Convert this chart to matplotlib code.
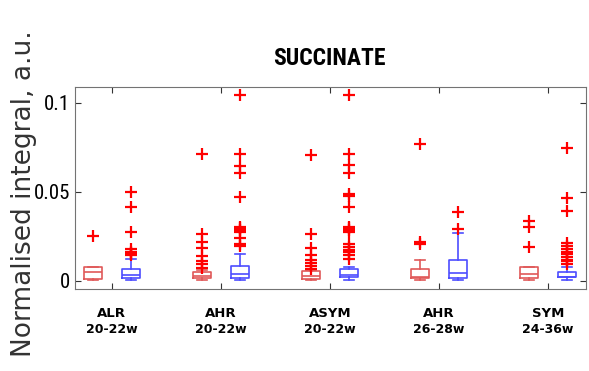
import numpy as np
import matplotlib.pyplot as plt
from matplotlib import font_manager

groups = ["ALR\n20-22w", "AHR\n20-22w", "ASYM\n20-22w", "AHR\n26-28w", "SYM\n24-36w"]

# box statistics (red series, blue series)
red_q1 = [0.0010, 0.0015, 0.0011, 0.0017, 0.0017]
red_med = [0.0050, 0.0030, 0.0030, 0.0022, 0.0039]
red_q3 = [0.0080, 0.0052, 0.0056, 0.0067, 0.0079]
red_lo = [0.0005, 0.0003, 0.0003, 0.0003, 0.0003]
red_hi = [0.0080, 0.0060, 0.0060, 0.0118, 0.0079]
red_fliers = [
    [0.0253],
    [0.0713, 0.0264, 0.0220, 0.0185, 0.0140, 0.0112, 0.0096, 0.0073],
    [0.0708, 0.0264, 0.0185, 0.0146, 0.0118, 0.0101, 0.0085, 0.0070],
    [0.0768, 0.0219, 0.0205],
    [0.0337, 0.0305, 0.0190],
]

blue_q1 = [0.0017, 0.0017, 0.0022, 0.0017, 0.0022]
blue_med = [0.0034, 0.0039, 0.0035, 0.0045, 0.0025]
blue_q3 = [0.0067, 0.0086, 0.0067, 0.0118, 0.0052]
blue_lo = [0.0006, 0.0006, 0.0006, 0.0006, 0.0006]
blue_hi = [0.0124, 0.0150, 0.0080, 0.0270, 0.0079]
blue_fliers = [
    [0.0500, 0.0416, 0.0275, 0.0180, 0.0165, 0.0155, 0.0150, 0.0145],
    [0.1045, 0.0713, 0.0648, 0.0607, 0.0472, 0.0305, 0.0295, 0.0285, 0.0275,
     0.0240, 0.0210, 0.0197],
    [0.1045, 0.0713, 0.0650, 0.0607, 0.0490, 0.0478, 0.0416, 0.0305, 0.0295,
     0.0285, 0.0275, 0.0210, 0.0190, 0.0175, 0.0160, 0.0145, 0.0125],
    [0.0388, 0.0292],
    [0.0747, 0.0466, 0.0393, 0.0213, 0.0195, 0.0180, 0.0165, 0.0150, 0.0135,
     0.0120, 0.0110, 0.0095],
]

red_col = (0.88, 0.35, 0.35)
blue_col = (0.3, 0.3, 1.0)

# pick a narrow face if one is around
names = {f.name for f in font_manager.fontManager.ttflist}
narrow = "Liberation Sans"
for cand in ["Liberation Sans Narrow", "Roboto Condensed", "DejaVu Sans Condensed"]:
    if cand in names:
        narrow = cand
        break


def make_stats(q1, med, q3, lo, hi, fl):
    return [dict(q1=a, med=b, q3=c, whislo=d, whishi=e, fliers=f)
            for a, b, c, d, e, f in zip(q1, med, q3, lo, hi, fl)]


fig = plt.figure(figsize=(5.89, 3.71), dpi=100)
ax = fig.add_axes([0.127, 0.221, 0.868, 0.545])

centers = np.arange(1, len(groups) + 1)
for stats, pos, col in [
    (make_stats(red_q1, red_med, red_q3, red_lo, red_hi, red_fliers), centers - 0.175, red_col),
    (make_stats(blue_q1, blue_med, blue_q3, blue_lo, blue_hi, blue_fliers), centers + 0.175, blue_col),
]:
    lp = dict(color=col, linewidth=1.2)
    ax.bxp(stats, positions=pos, widths=0.17, boxprops=lp, medianprops=lp,
           whiskerprops=lp, capprops=lp, capwidths=0.09,
           flierprops=dict(marker="+", markeredgecolor="red", markersize=9,
                           markeredgewidth=1.6, linestyle="none"),
           manage_ticks=False)

ax.set_xlim(0.66, 5.35)
ax.set_ylim(-0.0045, 0.109)
ax.set_xticks(centers)
ax.set_xticklabels([])
ax.set_yticks([0, 0.05, 0.1])
ax.set_yticklabels(["0", "0.05", "0.1"], family=narrow, fontsize=15)
ax.tick_params(direction="in", top=True, right=True, length=4, color="0.2")
for s in ax.spines.values():
    s.set_color("0.45")

for c, lab in zip(centers, groups):
    name, wk = lab.split("\n")
    ax.text(c, -0.018, name, ha="center", va="center", fontsize=9.5,
            fontweight="bold", transform=ax.transData)
    ax.text(c, -0.027, wk, ha="center", va="center", fontsize=9,
            fontweight="bold", transform=ax.transData)

fig.text(0.56, 0.843, "SUCCINATE", fontsize=17, fontweight="bold",
         family=narrow, ha="center", va="center")
fig.text(0.040, 0.477, "Normalised integral, a.u.", rotation=90, ha="center",
         va="center", fontsize=19, color="0.2")

fig.savefig("out.png", dpi=100)
